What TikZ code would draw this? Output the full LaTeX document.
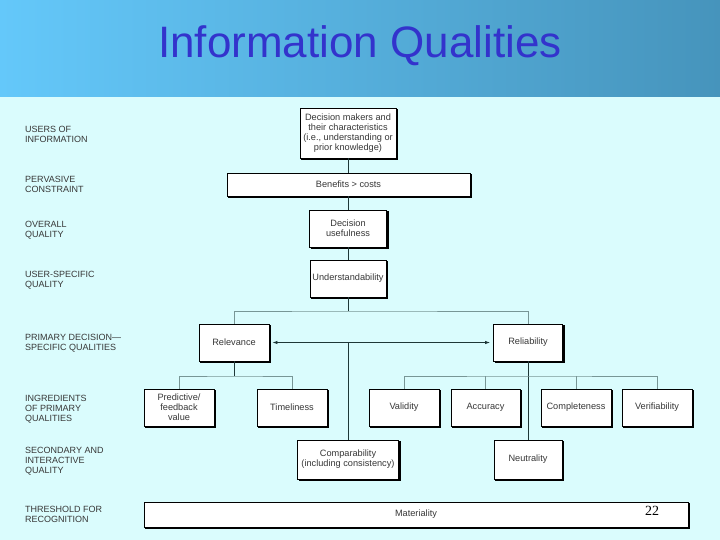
\documentclass[tikz,border=0pt]{standalone}
\usepackage{fontspec}
\setmainfont{Liberation Sans}
\newfontfamily\numfont{Liberation Serif}
\usetikzlibrary{arrows.meta}

\definecolor{headleft}{RGB}{100,200,250}
\definecolor{headmid}{RGB}{94,192,238}
\definecolor{headright}{RGB}{70,148,188}
\definecolor{pagebg}{RGB}{218,252,253}
\definecolor{titleblue}{RGB}{51,51,204}
\definecolor{linkdark}{RGB}{30,55,55}
\definecolor{linkgrey}{RGB}{120,150,150}
\definecolor{textgrey}{RGB}{55,55,55}

\begin{document}
\begin{tikzpicture}[
  x=1pt, y=-1pt,
  shadowline/.style={draw=black, line width=1.4pt, line cap=rect},
  block/.style={draw=black, fill=white, line width=0.9pt, inner sep=1pt, align=center,
    font=\fontsize{9.2}{10}\selectfont, text=textgrey,
    append after command={
      ([shift={(1.2pt,-2.2pt)}]\tikzlastnode.north east) edge[shadowline] ([shift={(1.2pt,-1.2pt)}]\tikzlastnode.south east)
      ([shift={(2.2pt,-1.2pt)}]\tikzlastnode.south west) edge[shadowline] ([shift={(1.2pt,-1.2pt)}]\tikzlastnode.south east)}},
  level/.style={anchor=west, align=left, inner sep=0pt, font=\fontsize{9}{10}\selectfont, text=textgrey},
  line/.style={draw=linkdark, line width=0.8pt},
  bar/.style={draw=linkgrey, line width=0.8pt},
  both/.style={{Latex[length=5pt,width=3.5pt]}-{Latex[length=5pt,width=3.5pt]}, line, shorten <=3pt, shorten >=3pt}
]
% page
\fill[pagebg] (0,0) rectangle (720,540);
\shade[left color=headleft, middle color=headmid, right color=headright] (0,0) rectangle (720,97);
\node[font=\fontsize{44}{50}\selectfont, text=titleblue] (title) at (360,46) {Information Qualities};

% levels on the left
\node[level] (users) at (25,134) {USERS OF\\INFORMATION};
\node[level] (pervasive) at (25,184.5) {PERVASIVE\\CONSTRAINT};
\node[level] (overall) at (25,230) {OVERALL\\QUALITY};
\node[level] (userspec) at (25,280.5) {USER-SPECIFIC\\QUALITY};
\node[level] (primary) at (25,343) {PRIMARY DECISION—\\SPECIFIC QUALITIES};
\node[level] (ingred) at (25,409) {INGREDIENTS\\OF PRIMARY\\QUALITIES};
\node[level] (second) at (25,461) {SECONDARY AND\\INTERACTIVE\\QUALITY};
\node[level] (thresh) at (25,514.5) {THRESHOLD FOR\\RECOGNITION};

% boxes
\node[block, minimum width=96pt, minimum height=50pt] (makers) at (348,133)
  {Decision makers and\\their characteristics\\(i.e., understanding or\\prior knowledge)};
\node[block, minimum width=243pt, minimum height=23pt] (benefits) at (348.5,184.5) {Benefits > costs};
\node[block, minimum width=77pt, minimum height=37pt] (useful) at (348,228.5) {Decision\\usefulness};
\node[block, minimum width=76pt, minimum height=37pt] (underst) at (348,278.5) {Understandability};
\node[block, minimum width=70pt, minimum height=37pt] (relev) at (234,342.5) {Relevance};
\node[block, minimum width=69pt, minimum height=37pt] (reliab) at (528,342.5) {Reliability};
\node[block, minimum width=70pt, minimum height=37pt] (predict) at (179,407.5) {Predictive/\\feedback\\value};
\node[block, minimum width=70pt, minimum height=37pt] (timely) at (292,407.5) {Timeliness};
\node[block, minimum width=70pt, minimum height=37pt] (valid) at (404,407.5) {Validity};
\node[block, minimum width=69pt, minimum height=37pt] (accur) at (485.5,407.5) {Accuracy};
\node[block, minimum width=70pt, minimum height=37pt] (complete) at (576,407.5) {Completeness};
\node[block, minimum width=70pt, minimum height=37pt] (verif) at (657,407.5) {Verifiability};
\node[block, minimum width=101pt, minimum height=39pt] (compar) at (348,459.5) {Comparability\\(including consistency)};
\node[block, minimum width=68pt, minimum height=39pt] (neutral) at (528,459.5) {Neutrality};
\node[block, minimum width=544pt, minimum height=25pt] (material) at (416,514.5) {Materiality};
\node[font=\numfont\fontsize{14}{16}\selectfont] (pagenum) at (652,511) {22};

% forks
\coordinate (splitTop) at (348,311);
\coordinate (splitRel) at (234,376);
\coordinate (splitRlb) at (528,376);
\coordinate (midArrow) at (348,342.5);

% connectors
\draw[line] (makers.south) -- (makers.south |- benefits.north);
\draw[line] (makers.south |- benefits.south) -- (useful.north);
\draw[line] (useful) -- (underst);
\draw[line] (underst.south) -- (splitTop);
\draw[bar] (relev.north) |- (splitTop) -| (reliab.north);
\draw[both] (relev.east) -- (reliab.west);
\draw[line] (midArrow) -- (compar.north);
\draw[line] (relev.south) -- (splitRel);
\draw[bar] (predict.north) |- (splitRel) -| (timely.north);
\draw[line] (reliab.south) -- (neutral.north);
\draw[bar] (valid.north) |- (splitRlb) -| (verif.north);
\draw[bar] (accur.north) -- (accur.north |- splitRlb);
\draw[bar] (complete.north) -- (complete.north |- splitRlb);
\end{tikzpicture}
\end{document}
